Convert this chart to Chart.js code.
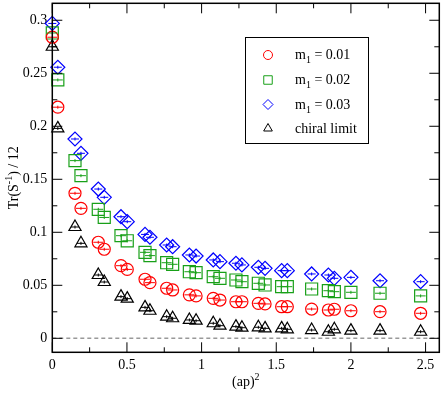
<!DOCTYPE html>
<html>
<head>
<meta charset="utf-8">
<script src="https://cdn.jsdelivr.net/npm/chart.js@4.4.0/dist/chart.umd.min.js"></script>
<style>
    html, body { margin: 0; padding: 0; background: #fff; }
    canvas { display: block; }
</style>
</head>
<body>
<canvas id="trChart" width="442" height="393"></canvas>
<script>
// (ap)^2 values, shared by all four data sets
const apSquared = [0, 0.037, 0.152, 0.192, 0.308, 0.348, 0.46, 0.502, 0.621, 0.654,
    0.766, 0.806, 0.918, 0.963, 1.078, 1.123, 1.23, 1.27, 1.38, 1.425,
    1.536, 1.574, 1.737, 1.849, 1.889, 2.0, 2.195, 2.467];

// Tr(S^-1)/12 for each mass
const mass001 = [0.284, 0.218, 0.1368, 0.1226, 0.0906, 0.084, 0.0685, 0.065, 0.0557, 0.0525,
    0.0472, 0.0456, 0.041, 0.040, 0.0377, 0.0361, 0.0345, 0.0345, 0.033, 0.0324,
    0.0298, 0.0298, 0.0276, 0.0267, 0.0274, 0.026, 0.0251, 0.0236];
const mass002 = [0.288, 0.2437, 0.1676, 0.1534, 0.1217, 0.114, 0.0968, 0.092, 0.0811, 0.078,
    0.0713, 0.0698, 0.0628, 0.0619, 0.0581, 0.0566, 0.055, 0.0534, 0.0519, 0.0503,
    0.0487, 0.0487, 0.0465, 0.0449, 0.044, 0.0434, 0.0425, 0.040];
const mass003 = [0.297, 0.2557, 0.188, 0.1745, 0.1408, 0.133, 0.1147, 0.110, 0.098, 0.0953,
    0.088, 0.0864, 0.0786, 0.0776, 0.0739, 0.0723, 0.0708, 0.0692, 0.067, 0.066,
    0.0638, 0.0638, 0.0607, 0.0597, 0.0566, 0.0575, 0.0543, 0.0534];
const chiralLimit = [0.275, 0.198, 0.105, 0.0896, 0.0597, 0.0531, 0.0393, 0.0374, 0.0292, 0.026,
    0.0204, 0.0189, 0.0173, 0.0166, 0.0142, 0.0119, 0.011, 0.010, 0.0104, 0.0094,
    0.0094, 0.0085, 0.0078, 0.0062, 0.0085, 0.0072, 0.0072, 0.0062];

const legendMasses = ['0.01', '0.02', '0.03'];
const chiralLabel = 'chiral limit';
const xTicks = [0, 0.5, 1, 1.5, 2, 2.5];
const yTicks = [0, 0.05, 0.1, 0.15, 0.2, 0.25, 0.3];

const serif = "'Liberation Serif', 'DejaVu Serif', serif";

function toPoints(values) {
    return apSquared.map((x, i) => ({ x: x, y: values[i] }));
}

const styles = [
    { color: '#ff0000', pointStyle: 'circle', radius: 6, legendRadius: 4.5, inner: 5 },
    { color: '#18a018', pointStyle: 'rect', radius: 8.5, legendRadius: 6, inner: 5 },
    { color: '#0000ff', pointStyle: 'rectRot', radius: 7, legendRadius: 5, inner: 4 },
    { color: '#000000', pointStyle: 'triangle', radius: 7, legendRadius: 5, inner: 4 }
];

// no extra room for edge labels, the chart area is set by the layout padding
function fixBox(scale, prop, size) {
    scale[prop] = size;
    scale.paddingLeft = 0;
    scale.paddingRight = 0;
    scale.paddingTop = 0;
    scale.paddingBottom = 0;
}

// frame, inward ticks, zero line, legend and axis titles
const decorPlugin = {
    id: 'decor',
    beforeDatasetsDraw(chart) {
        const { ctx, chartArea: a, scales: { y } } = chart;
        const y0 = y.getPixelForValue(0);
        ctx.save();
        ctx.strokeStyle = '#999';
        ctx.lineWidth = 1.5;
        ctx.setLineDash([4, 3]);
        ctx.beginPath();
        ctx.moveTo(a.left, y0);
        ctx.lineTo(a.right, y0);
        ctx.stroke();
        ctx.restore();
    },
    afterDatasetsDraw(chart) {
        const { ctx, chartArea: a, scales: { x, y } } = chart;
        ctx.save();

        // little error bar marks inside each marker
        chart.data.datasets.forEach((ds, di) => {
            const st = styles[di];
            ctx.strokeStyle = st.color;
            ctx.lineWidth = 1;
            chart.getDatasetMeta(di).data.forEach(pt => {
                ctx.beginPath();
                ctx.moveTo(pt.x - st.inner, pt.y);
                ctx.lineTo(pt.x + st.inner, pt.y);
                ctx.moveTo(pt.x, pt.y - 1.5);
                ctx.lineTo(pt.x, pt.y + 1.5);
                ctx.stroke();
            });
        });

        // frame
        ctx.strokeStyle = '#000';
        ctx.lineWidth = 1.5;
        ctx.strokeRect(a.left, a.top, a.right - a.left, a.bottom - a.top);

        // ticks on all four sides
        ctx.lineWidth = 1;
        ctx.beginPath();
        const xTick = (v, len) => {
            const px = x.getPixelForValue(v);
            if (px < a.left - 0.5 || px > a.right + 0.5) return;
            ctx.moveTo(px, a.bottom); ctx.lineTo(px, a.bottom - len);
            ctx.moveTo(px, a.top); ctx.lineTo(px, a.top + len);
        };
        const yTick = (v, len) => {
            const py = y.getPixelForValue(v);
            if (py < a.top - 0.5 || py > a.bottom + 0.5) return;
            ctx.moveTo(a.left, py); ctx.lineTo(a.left + len, py);
            ctx.moveTo(a.right, py); ctx.lineTo(a.right - len, py);
        };
        xTicks.forEach(v => { xTick(v, 10); xTick(v + 0.25, 5); });
        yTicks.forEach(v => { yTick(v, 10); yTick(v + 0.025, 5); });
        ctx.stroke();

        // legend
        const box = { left: 245, top: 37, right: 368, bottom: 143 };
        ctx.lineWidth = 1;
        ctx.strokeStyle = '#000';
        ctx.strokeRect(box.left + 0.5, box.top + 0.5, box.right - box.left, box.bottom - box.top);
        const rows = [55, 80, 104.5, 128.5];
        rows.forEach((ry, i) => {
            const st = styles[i];
            ctx.strokeStyle = st.color;
            ctx.fillStyle = 'rgba(0,0,0,0)';
            Chart.helpers.drawPoint(ctx, {
                pointStyle: st.pointStyle, radius: st.legendRadius, rotation: 0, borderWidth: 1.2
            }, 268, ry);
            ctx.fillStyle = '#000';
            ctx.textAlign = 'left';
            ctx.textBaseline = 'alphabetic';
            let tx = 295;
            const base = ry + 4;
            if (i < legendMasses.length) {
                ctx.font = '14px ' + serif;
                ctx.fillText('m', tx, base);
                tx += ctx.measureText('m').width;
                ctx.font = '10px ' + serif;
                ctx.fillText('1', tx, base + 4);
                tx += ctx.measureText('1').width;
                ctx.font = '14px ' + serif;
                ctx.fillText(' = ' + legendMasses[i], tx, base);
            } else {
                ctx.font = '14px ' + serif;
                ctx.fillText(chiralLabel, tx, base);
            }
        });

        // x axis title: (ap)^2
        ctx.fillStyle = '#000';
        const xMain = '(ap)';
        ctx.font = '14px ' + serif;
        const wMain = ctx.measureText(xMain).width;
        ctx.font = '10px ' + serif;
        const wSup = ctx.measureText('2').width;
        const sx = (a.left + a.right) / 2 - (wMain + wSup) / 2;
        ctx.font = '14px ' + serif;
        ctx.fillText(xMain, sx, 386);
        ctx.font = '10px ' + serif;
        ctx.fillText('2', sx + wMain, 380);

        // y axis title: Tr(S^-1) / 12
        ctx.translate(18, (a.top + a.bottom) / 2);
        ctx.rotate(-Math.PI / 2);
        const parts = [['Tr(S', 14, 0], ['-1', 10, -6], [') / 12', 14, 0]];
        let total = 0;
        parts.forEach(p => { ctx.font = p[1] + 'px ' + serif; total += ctx.measureText(p[0]).width; });
        let px = -total / 2;
        parts.forEach(p => {
            ctx.font = p[1] + 'px ' + serif;
            ctx.fillText(p[0], px, p[2]);
            px += ctx.measureText(p[0]).width;
        });

        ctx.restore();
    }
};

document.addEventListener('DOMContentLoaded', () => {
    const ctx = document.getElementById('trChart').getContext('2d');
    const series = [mass001, mass002, mass003, chiralLimit];

    new Chart(ctx, {
        type: 'scatter',
        data: {
            datasets: series.map((values, i) => ({
                label: i < legendMasses.length ? 'm1 = ' + legendMasses[i] : chiralLabel,
                data: toPoints(values),
                pointStyle: styles[i].pointStyle,
                pointRadius: styles[i].radius,
                pointHoverRadius: styles[i].radius,
                borderColor: styles[i].color,
                backgroundColor: 'rgba(0,0,0,0)',
                pointBorderWidth: 1.2,
                showLine: false,
                clip: false
            }))
        },
        options: {
            responsive: false,
            animation: false,
            events: [],
            layout: { autoPadding: false, padding: { top: 3.3, right: 2.7, left: 0, bottom: 0 } },
            plugins: {
                legend: { display: false },
                tooltip: { enabled: false }
            },
            scales: {
                x: {
                    type: 'linear',
                    min: 0,
                    max: 2.592,
                    grid: { display: false, drawTicks: false },
                    border: { display: false },
                    afterBuildTicks: scale => { scale.ticks = xTicks.map(v => ({ value: v })); },
                    afterFit: scale => fixBox(scale, 'height', 40.7),
                    ticks: {
                        autoSkip: false,
                        maxRotation: 0,
                        padding: 5,
                        color: '#000',
                        font: { family: serif, size: 14 },
                        callback: v => String(v)
                    }
                },
                y: {
                    type: 'linear',
                    min: -0.0132,
                    max: 0.316,
                    grid: { display: false, drawTicks: false },
                    border: { display: false },
                    afterBuildTicks: scale => { scale.ticks = yTicks.map(v => ({ value: v })); },
                    afterFit: scale => fixBox(scale, 'width', 52.3),
                    ticks: {
                        autoSkip: false,
                        padding: 5,
                        color: '#000',
                        font: { family: serif, size: 14 },
                        callback: v => String(v)
                    }
                }
            }
        },
        plugins: [decorPlugin]
    });
});
</script>
</body>
</html>
